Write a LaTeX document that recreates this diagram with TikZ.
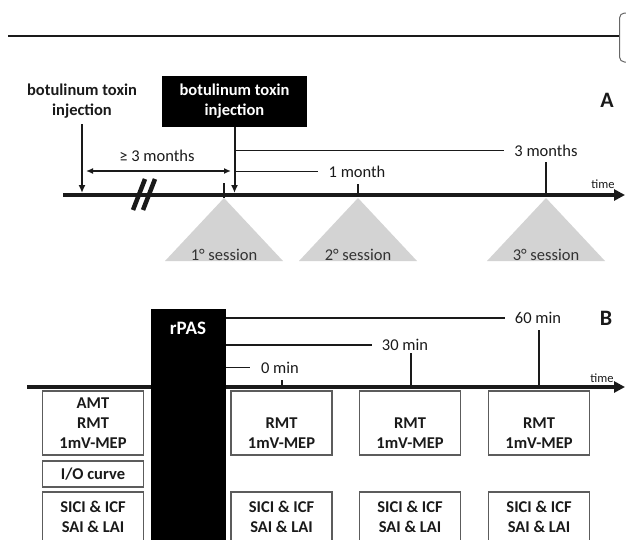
\documentclass[tikz,border=0pt]{standalone}
\usepackage{fontspec}
\setmainfont{Carlito}
\usepackage{tikz}
\usetikzlibrary{arrows.meta}

\definecolor{ink}{HTML}{1A1A1A}
\definecolor{sessgray}{HTML}{D3D3D3}
\definecolor{sesstext}{HTML}{333333}
\definecolor{boxgray}{HTML}{5C5C5C}
\definecolor{rulegray}{HTML}{666666}

\begin{document}
\begin{tikzpicture}[x = 1pt , y = -1pt ,
    lbl/.style = {text = ink , inner sep = 0pt , font = \fontsize{16.5}{20}\selectfont} ,
    hdr/.style = {text = ink , inner sep = 0pt , align = center , font = \bfseries\fontsize{16.5}{20}\selectfont} ,
    panellbl/.style = {text = ink , inner sep = 0pt , font = \bfseries\fontsize{22}{22}\selectfont} ,
    timelbl/.style = {text = ink , inner sep = 0pt , font = \fontsize{12.5}{14}\selectfont} ,
    sessionlbl/.style = {text = sesstext , inner sep = 0pt , font = \fontsize{16.5}{20}\selectfont} ,
    blackbox/.style = {fill = black , text = white , inner sep = 0pt , align = center , font = \bfseries\fontsize{16.5}{20}\selectfont} ,
    testbox/.style = {draw = boxgray , line width = 1.3pt , text = ink , inner sep = 0pt , align = center , minimum width = 101pt , font = \bfseries\fontsize{16.5}{20}\selectfont} ,
    timeaxis/.style = {line width = 4pt , ink , -{Triangle[length = 11pt , width = 11pt]}} ,
    injarrow/.style = {line width = 2pt , ink , -{Latex[length = 8pt , width = 7pt]}} ,
    gaparrow/.style = {line width = 1.8pt , ink , {Latex[length = 7pt , width = 6pt]}-{Latex[length = 7pt , width = 6pt]}} ,
    spanline/.style = {line width = 1.8pt , ink , shorten >= 10pt} ,
    tickline/.style = {line width = 2.2pt , ink}]

    \useasboundingbox (0,0) rectangle (626,539);

    % γραμμη κεφαλιδας
    \draw[line width = 2pt , ink] (8,36) -- (619,36);
    \draw[rulegray , line width = 1pt , rounded corners = 5pt] (626,13) -- (619.5,13) -- (619.5,62) -- (626,62);

    % ---- A ----
    \node[panellbl] (A) at (607,100) {A};
    \node[hdr] (inj1) at (82,101) {botulinum toxin\\injection};
    \node[blackbox , minimum width = 145pt , minimum height = 51pt] (inj2) at (234.5,101.5) {botulinum toxin\\injection};

    % τριγωνα συνεδριων
    \coordinate (s1) at (224,198);
    \coordinate (s2) at (358,198);
    \coordinate (s3) at (546,198);
    \fill[sessgray] (s1) -- ++(59,63) -- ++(-118,0) -- cycle;
    \fill[sessgray] (s2) -- ++(59,63) -- ++(-118,0) -- cycle;
    \fill[sessgray] (s3) -- ++(59,63) -- ++(-118,0) -- cycle;
    \node[sessionlbl] (ses1) at (224,255) {1° session};
    \node[sessionlbl] (ses2) at (358,255) {2° session};
    \node[sessionlbl] (ses3) at (546,255) {3° session};

    \coordinate (axA) at (63,195);
    \coordinate (axAend) at (625,195);
    \draw[timeaxis] (axA) -- (axAend);
    \node[timelbl] (timeA) at (603,184) {time};

    \draw[injarrow , shorten <= 6pt , shorten >= 2pt] (inj1.south) -- (inj1.south |- axA);
    \draw[injarrow , shorten >= 2pt] (inj2.south) -- (inj2.south |- axA);

    % διακοπη αξονα
    \draw[line width = 4.5pt , ink] (133,210) -- (145,179);
    \draw[line width = 4.5pt , ink] (143,210) -- (155,179);

    \node[lbl] (gap) at (157,156) {≥ 3 months};
    \coordinate (g1) at (86,171);
    \coordinate (g2) at (231,171);
    \draw[gaparrow] (g1) -- (g2);

    \node[lbl] (m3) at (546,150.5) {3 months};
    \node[lbl] (m1) at (357,171.5) {1 month};
    \draw[spanline] (inj2.south |- m3) -- (m3.west);
    \draw[spanline] (inj2.south |- m1) -- (m1.west);
    \draw[tickline , shorten <= 6pt] (m3.south) -- (m3.south |- axA);
    \draw[tickline , shorten <= 7pt] (m1.south -| s2) -- (s2 |- axA);
    \draw[tickline] (224,183) -- (s1); % σημαδι 1ης συνεδριας

    % ---- B ----
    \node[panellbl] (B) at (606,318) {B};
    \coordinate (axB) at (27,387);
    \coordinate (axBend) at (625,387);
    \draw[timeaxis] (axB) -- (axBend);
    \node[timelbl] (timeB) at (602,378) {time};

    \node[blackbox , minimum width = 75pt , minimum height = 251pt] (rpas) at (188.5,434.5) {};
    \node[blackbox , font = \bfseries\fontsize{19}{20}\selectfont] (rpaslbl) at (188,328) {rPAS};

    \node[lbl] (m60) at (538,318) {60 min};
    \node[lbl] (m30) at (405,345) {30 min};
    \node[lbl] (m0) at (280,367.5) {0 min};
    \draw[spanline] (rpas.east |- m60) -- (m60.west);
    \draw[spanline] (rpas.east |- m30) -- (m30.west);
    \draw[spanline , shorten >= 11pt] (rpas.east |- m0) -- (m0.west);

    \coordinate (t0) at (282,387);
    \coordinate (t30) at (411,387);
    \coordinate (t60) at (539,387);
    \draw[tickline , line width = 1.5pt] (t0) -- ++(0,-7);
    \draw[tickline] (t30) -- ++(0,-34);
    \draw[tickline] (t60) -- ++(0,-57);

    % πινακες μετρησεων
    \node[testbox , minimum height = 64pt] (pre1) at (93,423) {AMT\\RMT\\1mV-MEP};
    \node[testbox , minimum height = 26pt] (pre2) at (93,474) {I/O curve};
    \node[testbox , minimum height = 50pt] (pre3) at (93,517) {SICI \& ICF\\SAI \& LAI};

    \node[testbox , minimum height = 64pt] (post0a) at (281.5,423) {\phantom{AMT}\\RMT\\1mV-MEP};
    \node[testbox , minimum height = 64pt] (post30a) at (410,423) {\phantom{AMT}\\RMT\\1mV-MEP};
    \node[testbox , minimum height = 64pt] (post60a) at (539,423) {\phantom{AMT}\\RMT\\1mV-MEP};
    \node[testbox , minimum height = 50pt] (post0b) at (281.5,517) {SICI \& ICF\\SAI \& LAI};
    \node[testbox , minimum height = 50pt] (post30b) at (410,517) {SICI \& ICF\\SAI \& LAI};
    \node[testbox , minimum height = 50pt] (post60b) at (539,517) {SICI \& ICF\\SAI \& LAI};
\end{tikzpicture}
\end{document}
